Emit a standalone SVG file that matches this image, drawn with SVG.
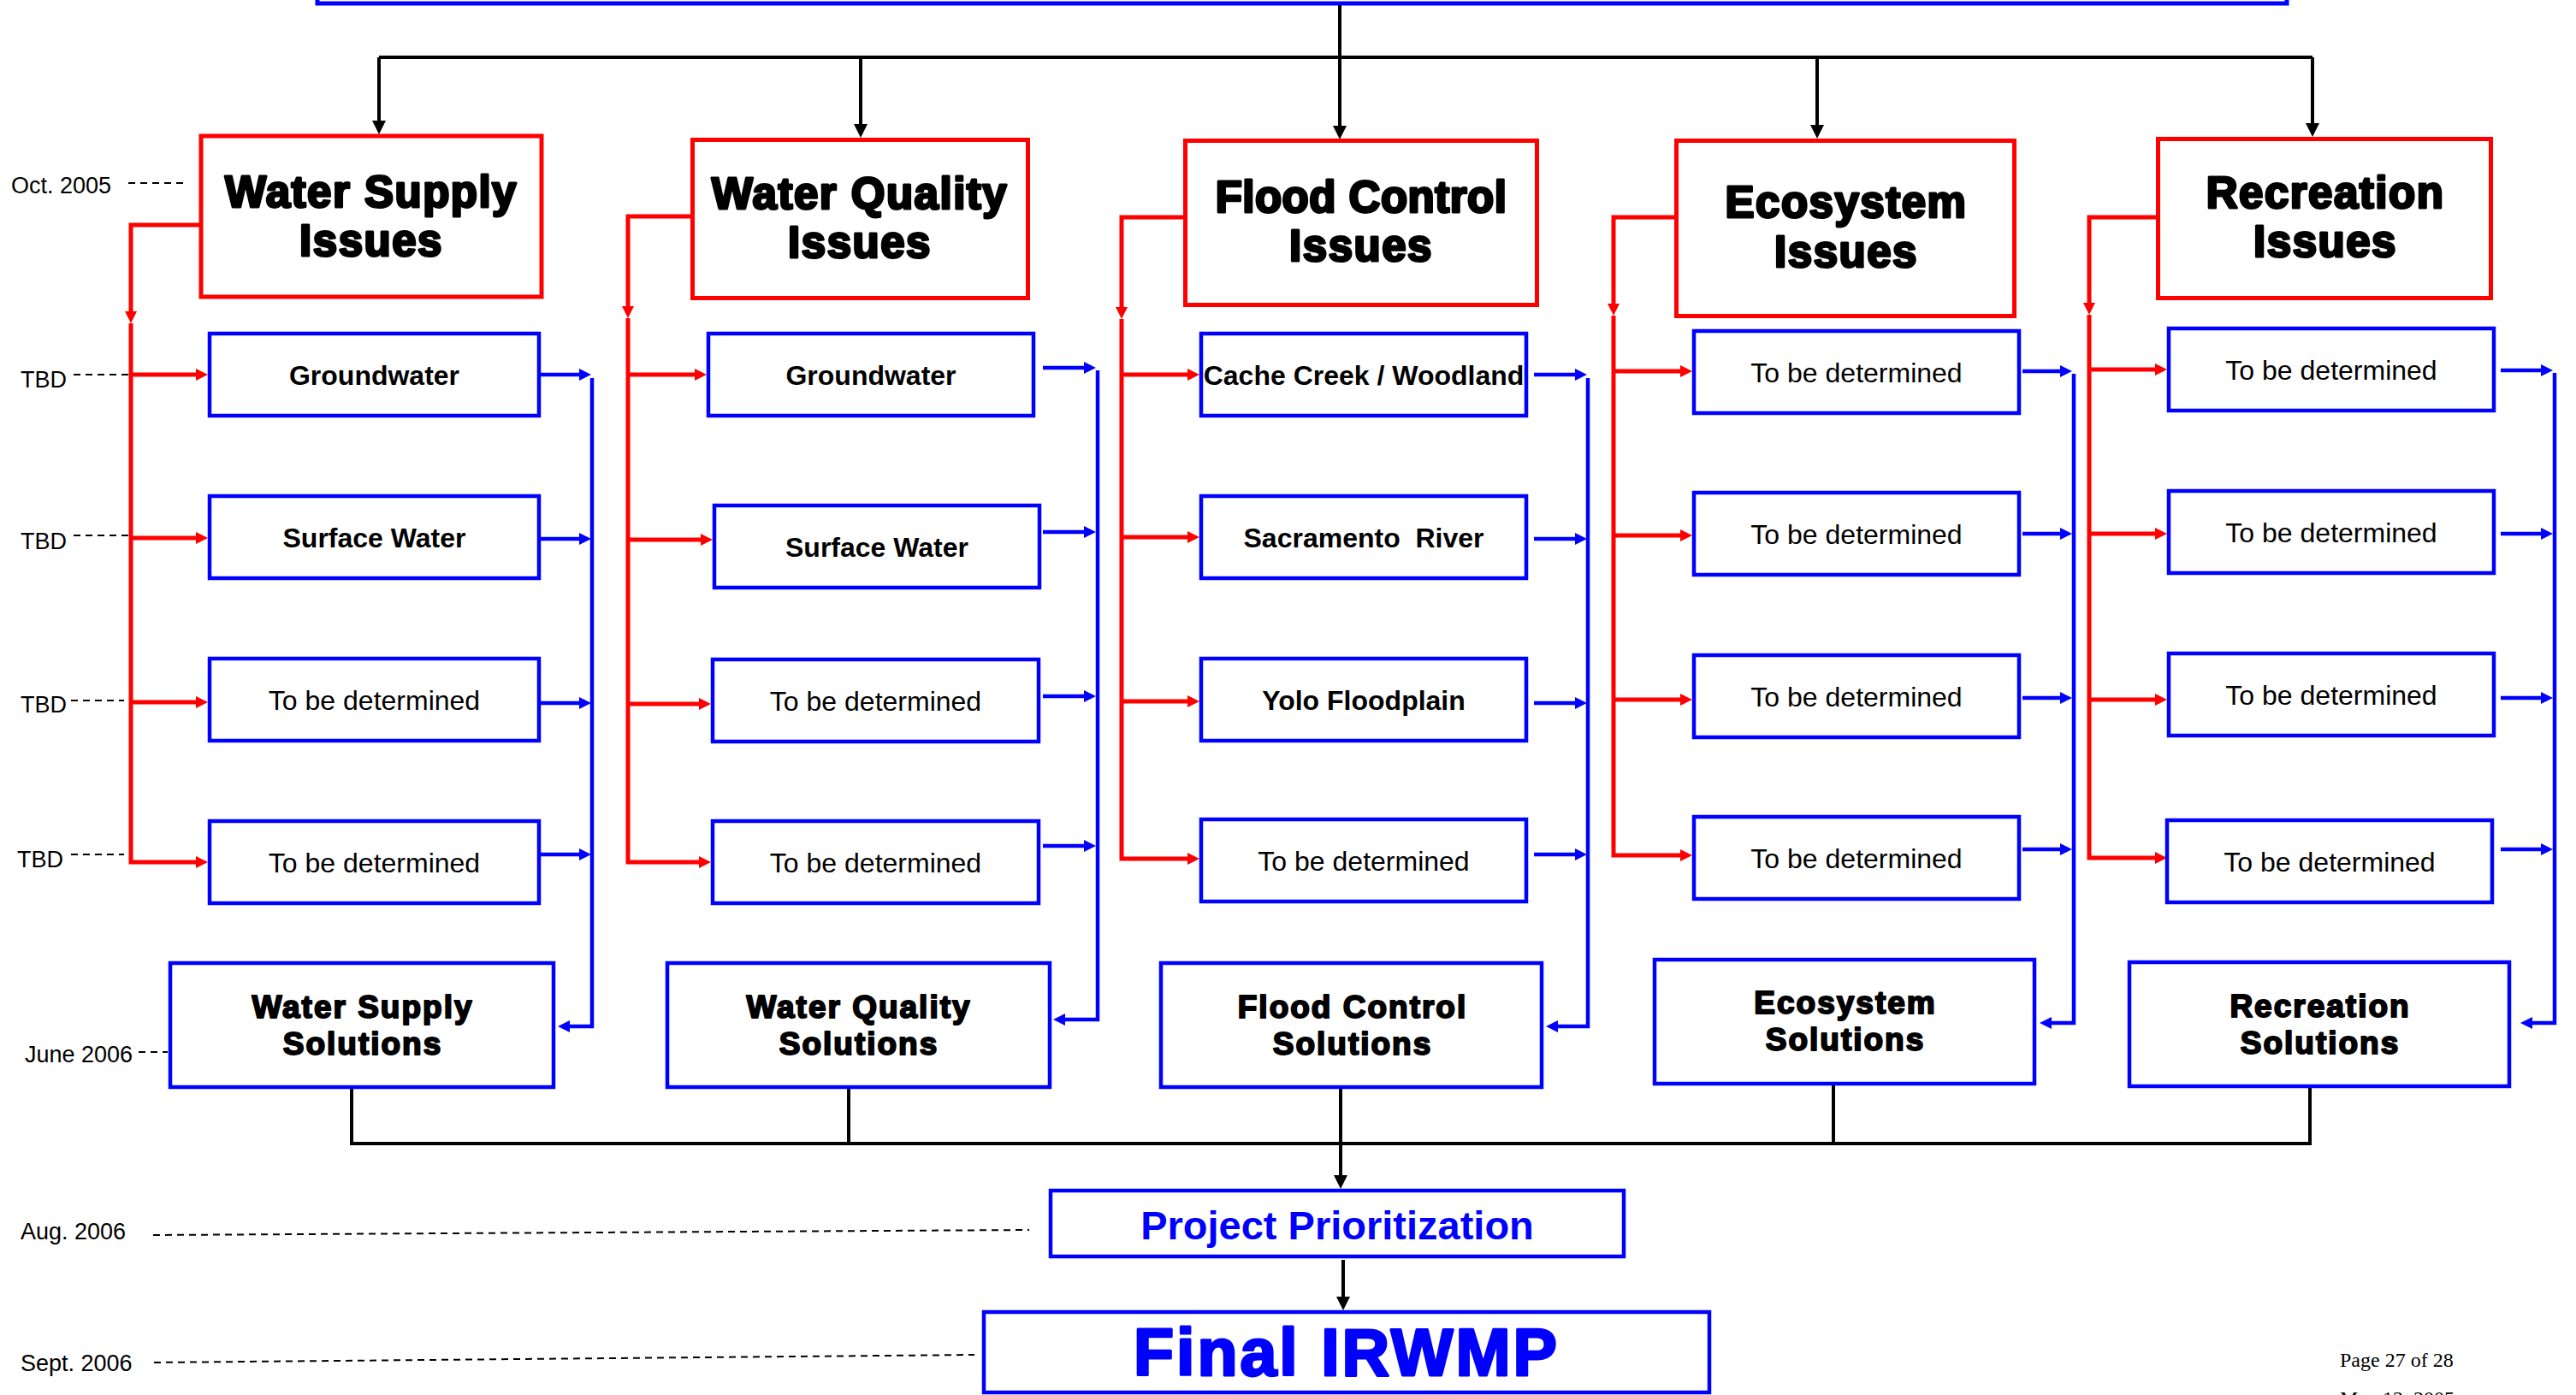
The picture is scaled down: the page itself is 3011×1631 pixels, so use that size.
<svg xmlns="http://www.w3.org/2000/svg" width="3011" height="1631" viewBox="0 0 3011 1631">
<style>
.bg{fill:#fff}
.issue{fill:#fff;stroke:#f00;stroke-width:5}
.box{fill:#fff;stroke:#00f;stroke-width:4.5}
.head{font-family:"Liberation Sans",Arial,sans-serif;font-weight:bold;font-size:51px;letter-spacing:1.5px;text-anchor:middle;fill:#000;stroke:#000;stroke-width:3;stroke-linejoin:round}
.solt{font-family:"Liberation Sans",Arial,sans-serif;font-weight:bold;font-size:37px;letter-spacing:2px;text-anchor:middle;fill:#000;stroke:#000;stroke-width:2;stroke-linejoin:round}
.bt{font-family:"Liberation Sans",Arial,sans-serif;font-weight:bold;font-size:32px;text-anchor:middle;fill:#000}
.rt{font-family:"Liberation Sans",Arial,sans-serif;font-size:32px;text-anchor:middle;fill:#000}
.date{font-family:"Liberation Sans",Arial,sans-serif;font-size:27px;fill:#000}
.foot{font-family:"Liberation Serif","Times New Roman",serif;font-size:24px;fill:#000}
.red{fill:none;stroke:#f00;stroke-width:5}
.blue{fill:none;stroke:#00f;stroke-width:4.5}
.blk{fill:none;stroke:#000;stroke-width:4}
.dash{fill:none;stroke:#000;stroke-width:2;stroke-dasharray:8 6}
</style>
<defs>
<marker id="ar" markerUnits="userSpaceOnUse" markerWidth="14" markerHeight="14" refX="2" refY="7" orient="auto"><path d="M0,0 L14,7 L0,14 z" fill="#f00"/></marker>
<marker id="ab" markerUnits="userSpaceOnUse" markerWidth="14" markerHeight="14" refX="2" refY="7" orient="auto"><path d="M0,0 L14,7 L0,14 z" fill="#00f"/></marker>
<marker id="ak" markerUnits="userSpaceOnUse" markerWidth="16" markerHeight="16" refX="2" refY="8" orient="auto"><path d="M0,0 L16,8 L0,16 z" fill="#000"/></marker>
</defs>
<rect class="bg" x="0" y="0" width="3011" height="1631"/>

<g id="top-box"><rect class="box" x="371" y="-60" width="2302" height="64" style="stroke-width:5"/></g>

<g id="connectors">
<path class="blk" d="M1566,6 V149" marker-end="url(#ak)"/>
<path class="blk" d="M443,67 H2703"/>
<path class="blk" d="M443,67 V143" marker-end="url(#ak)"/>
<path class="blk" d="M1006,67 V147" marker-end="url(#ak)"/>
<path class="blk" d="M2124,67 V148" marker-end="url(#ak)"/>
<path class="blk" d="M2703,67 V146" marker-end="url(#ak)"/>

<path class="red" d="M235,263 H153 V366" marker-end="url(#ar)"/>
<path class="red" d="M153,378 V1008 H231" marker-end="url(#ar)"/>
<path class="red" d="M153,438 H231" marker-end="url(#ar)"/>
<path class="red" d="M153,629 H231" marker-end="url(#ar)"/>
<path class="red" d="M153,821 H231" marker-end="url(#ar)"/>
<path class="blue" d="M632,438 H679" marker-end="url(#ab)"/>
<path class="blue" d="M632,630 H679" marker-end="url(#ab)"/>
<path class="blue" d="M632,822 H679" marker-end="url(#ab)"/>
<path class="blue" d="M632,999 H679" marker-end="url(#ab)"/>
<path class="blue" d="M692,442 V1200 H664" marker-end="url(#ab)"/>

<path class="red" d="M809,253 H734 V360" marker-end="url(#ar)"/>
<path class="red" d="M734,372 V1008 H819" marker-end="url(#ar)"/>
<path class="red" d="M734,438 H814" marker-end="url(#ar)"/>
<path class="red" d="M734,631 H821" marker-end="url(#ar)"/>
<path class="red" d="M734,823 H819" marker-end="url(#ar)"/>
<path class="blue" d="M1219,430 H1269" marker-end="url(#ab)"/>
<path class="blue" d="M1219,622 H1269" marker-end="url(#ab)"/>
<path class="blue" d="M1219,814 H1269" marker-end="url(#ab)"/>
<path class="blue" d="M1219,989 H1269" marker-end="url(#ab)"/>
<path class="blue" d="M1283,433 V1192 H1243" marker-end="url(#ab)"/>

<path class="red" d="M1385,254 H1311 V361" marker-end="url(#ar)"/>
<path class="red" d="M1311,373 V1004 H1390" marker-end="url(#ar)"/>
<path class="red" d="M1311,438 H1390" marker-end="url(#ar)"/>
<path class="red" d="M1311,628 H1390" marker-end="url(#ar)"/>
<path class="red" d="M1311,820 H1390" marker-end="url(#ar)"/>
<path class="blue" d="M1793,438 H1843" marker-end="url(#ab)"/>
<path class="blue" d="M1793,630 H1843" marker-end="url(#ab)"/>
<path class="blue" d="M1793,822 H1843" marker-end="url(#ab)"/>
<path class="blue" d="M1793,999 H1843" marker-end="url(#ab)"/>
<path class="blue" d="M1856,442 V1200 H1819" marker-end="url(#ab)"/>

<path class="red" d="M1959,254 H1886 V357" marker-end="url(#ar)"/>
<path class="red" d="M1886,369 V1000 H1966" marker-end="url(#ar)"/>
<path class="red" d="M1886,434 H1966" marker-end="url(#ar)"/>
<path class="red" d="M1886,626 H1966" marker-end="url(#ar)"/>
<path class="red" d="M1886,818 H1966" marker-end="url(#ar)"/>
<path class="blue" d="M2364,434 H2410" marker-end="url(#ab)"/>
<path class="blue" d="M2364,624 H2410" marker-end="url(#ab)"/>
<path class="blue" d="M2364,816 H2410" marker-end="url(#ab)"/>
<path class="blue" d="M2364,993 H2410" marker-end="url(#ab)"/>
<path class="blue" d="M2424,437 V1196 H2396" marker-end="url(#ab)"/>

<path class="red" d="M2522,254 H2442 V356" marker-end="url(#ar)"/>
<path class="red" d="M2442,368 V1003 H2521" marker-end="url(#ar)"/>
<path class="red" d="M2442,432 H2521" marker-end="url(#ar)"/>
<path class="red" d="M2442,624 H2521" marker-end="url(#ar)"/>
<path class="red" d="M2442,818 H2521" marker-end="url(#ar)"/>
<path class="blue" d="M2923,433 H2972" marker-end="url(#ab)"/>
<path class="blue" d="M2923,624 H2972" marker-end="url(#ab)"/>
<path class="blue" d="M2923,816 H2972" marker-end="url(#ab)"/>
<path class="blue" d="M2923,993 H2972" marker-end="url(#ab)"/>
<path class="blue" d="M2986,436 V1196 H2958" marker-end="url(#ab)"/>

<path class="blk" d="M411,1273 V1337 H2700 V1272"/>
<path class="blk" d="M992,1271 V1337"/>
<path class="blk" d="M2143,1267 V1337"/>
<path class="blk" d="M1567,1271 V1376" marker-end="url(#ak)"/>
<path class="blk" d="M1570,1473 V1518" marker-end="url(#ak)"/>

<path class="dash" d="M150,214 H214"/>
<path class="dash" d="M86,438 H150"/>
<path class="dash" d="M86,626 H150"/>
<path class="dash" d="M83,819 H145"/>
<path class="dash" d="M83,999 H145"/>
<path class="dash" d="M162,1230 H196"/>
<path class="dash" d="M179,1444 L1203,1438"/>
<path class="dash" d="M180,1593 L1139,1584"/>
</g>

<g id="ws-issues"><rect class="issue" x="235" y="159" width="398" height="188"/><text class="head" x="434" y="242">Water Supply</text><text class="head" x="434" y="299">Issues</text></g>
<g id="wq-issues"><rect class="issue" x="809.5" y="163.5" width="392" height="185"/><text class="head" x="1005" y="244">Water Quality</text><text class="head" x="1005" y="301">Issues</text></g>
<g id="fc-issues"><rect class="issue" x="1385.5" y="164.5" width="411" height="192"/><text class="head" x="1591" y="248" style="letter-spacing:0.5px">Flood Control</text><text class="head" x="1591" y="305">Issues</text></g>
<g id="eco-issues"><rect class="issue" x="1959.5" y="164.5" width="395" height="205"/><text class="head" x="2158" y="254">Ecosystem</text><text class="head" x="2158" y="312">Issues</text></g>
<g id="rec-issues"><rect class="issue" x="2522.5" y="162.5" width="389" height="186"/><text class="head" x="2718" y="243">Recreation</text><text class="head" x="2718" y="300">Issues</text></g>

<g id="ws-1"><rect class="box" x="245" y="390" width="385" height="96"/><text class="bt" x="437.5" y="450">Groundwater</text></g>
<g id="ws-2"><rect class="box" x="245" y="580" width="385" height="96"/><text class="bt" x="437.5" y="640">Surface Water</text></g>
<g id="ws-3"><rect class="box" x="245" y="770" width="385" height="96"/><text class="rt" x="437.5" y="830">To be determined</text></g>
<g id="ws-4"><rect class="box" x="245" y="960" width="385" height="96"/><text class="rt" x="437.5" y="1020">To be determined</text></g>

<g id="wq-1"><rect class="box" x="828" y="390" width="380" height="96"/><text class="bt" x="1018" y="450">Groundwater</text></g>
<g id="wq-2"><rect class="box" x="835" y="591" width="380" height="96"/><text class="bt" x="1025" y="651">Surface Water</text></g>
<g id="wq-3"><rect class="box" x="833" y="771" width="381" height="96"/><text class="rt" x="1023.5" y="831">To be determined</text></g>
<g id="wq-4"><rect class="box" x="833" y="960" width="381" height="96"/><text class="rt" x="1023.5" y="1020">To be determined</text></g>

<g id="fc-1"><rect class="box" x="1404" y="390" width="380" height="96"/><text class="bt" x="1594" y="450">Cache Creek / Woodland</text></g>
<g id="fc-2"><rect class="box" x="1404" y="580" width="380" height="96"/><text class="bt" x="1594" y="640">Sacramento&#160; River</text></g>
<g id="fc-3"><rect class="box" x="1404" y="770" width="380" height="96"/><text class="bt" x="1594" y="830">Yolo Floodplain</text></g>
<g id="fc-4"><rect class="box" x="1404" y="958" width="380" height="96"/><text class="rt" x="1594" y="1018">To be determined</text></g>

<g id="eco-1"><rect class="box" x="1980" y="387" width="380" height="96"/><text class="rt" x="2170" y="447">To be determined</text></g>
<g id="eco-2"><rect class="box" x="1980" y="576" width="380" height="96"/><text class="rt" x="2170" y="636">To be determined</text></g>
<g id="eco-3"><rect class="box" x="1980" y="766" width="380" height="96"/><text class="rt" x="2170" y="826">To be determined</text></g>
<g id="eco-4"><rect class="box" x="1980" y="955" width="380" height="96"/><text class="rt" x="2170" y="1015">To be determined</text></g>

<g id="rec-1"><rect class="box" x="2535" y="384" width="380" height="96"/><text class="rt" x="2725" y="444">To be determined</text></g>
<g id="rec-2"><rect class="box" x="2535" y="574" width="380" height="96"/><text class="rt" x="2725" y="634">To be determined</text></g>
<g id="rec-3"><rect class="box" x="2535" y="764" width="380" height="96"/><text class="rt" x="2725" y="824">To be determined</text></g>
<g id="rec-4"><rect class="box" x="2533" y="959" width="380" height="96"/><text class="rt" x="2723" y="1019">To be determined</text></g>

<g id="ws-sol"><rect class="box" x="199" y="1126" width="448" height="145"/><text class="solt" x="424" y="1190">Water Supply</text><text class="solt" x="424" y="1233">Solutions</text></g>
<g id="wq-sol"><rect class="box" x="780" y="1126" width="447" height="145"/><text class="solt" x="1004" y="1190">Water Quality</text><text class="solt" x="1004" y="1233">Solutions</text></g>
<g id="fc-sol"><rect class="box" x="1357" y="1126" width="445" height="145"/><text class="solt" x="1581" y="1190">Flood Control</text><text class="solt" x="1581" y="1233">Solutions</text></g>
<g id="eco-sol"><rect class="box" x="1934" y="1122" width="444" height="145"/><text class="solt" x="2157" y="1185">Ecosystem</text><text class="solt" x="2157" y="1228">Solutions</text></g>
<g id="rec-sol"><rect class="box" x="2489" y="1125" width="444" height="145"/><text class="solt" x="2712" y="1189">Recreation</text><text class="solt" x="2712" y="1232">Solutions</text></g>

<g id="prioritization"><rect class="box" x="1228" y="1392" width="670" height="77"/><text class="bt" x="1563" y="1449" style="font-size:47px;fill:#00f">Project Prioritization</text></g>
<g id="final"><rect class="box" x="1150" y="1534" width="848" height="94"/><text class="bt" x="1574" y="1608" style="font-size:77px;fill:#00f;stroke:#00f;stroke-width:3;stroke-linejoin:round;letter-spacing:3px">Final IRWMP</text></g>

<g id="timeline">
<text class="date" x="13" y="226">Oct. 2005</text>
<text class="date" x="24" y="453">TBD</text>
<text class="date" x="24" y="642">TBD</text>
<text class="date" x="24" y="833">TBD</text>
<text class="date" x="20" y="1014">TBD</text>
<text class="date" x="29" y="1242">June 2006</text>
<text class="date" x="24" y="1449">Aug. 2006</text>
<text class="date" x="24" y="1603">Sept. 2006</text>
</g>
<g id="footer">
<text class="foot" x="2735" y="1598">Page 27 of 28</text>
<text class="foot" x="2735" y="1643">May 12, 2005</text>
</g>
</svg>
